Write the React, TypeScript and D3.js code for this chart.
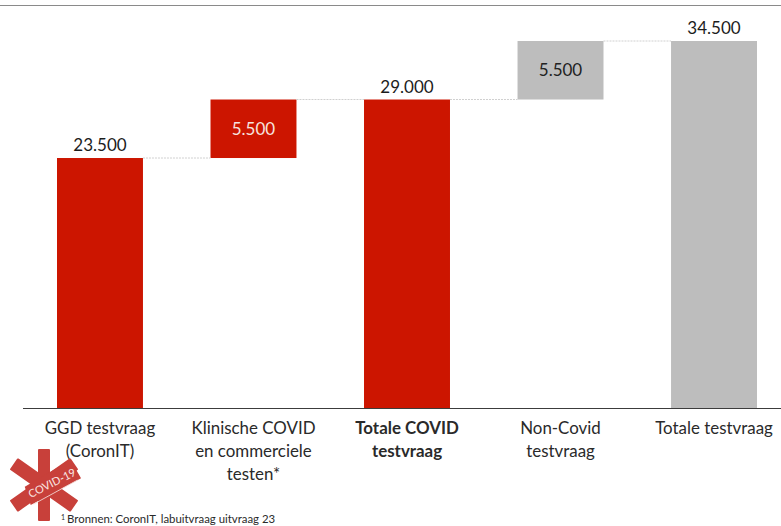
import React from "react";
import * as d3 from "d3";

const categories = ["GGD testvraag", "Klinische COVID", "Totale COVID", "Non-Covid", "Totale testvraag"];
const labelLines = [
  ["GGD testvraag", "(CoronIT)"],
  ["Klinische COVID", "en commerciele", "testen*"],
  ["Totale COVID", "testvraag"],
  ["Non-Covid", "testvraag"],
  ["Totale testvraag"],
];
const starts = [0, 23500, 0, 29000, 0];
const ends = [23500, 29000, 29000, 34500, 34500];
const valueLabels = ["23.500", "5.500", "29.000", "5.500", "34.500"];
const labelInside = [false, true, false, true, false];
const colors = ["#cc1500", "#cc1500", "#cc1500", "#bdbdbd", "#bdbdbd"];
const boldFlags = [false, false, true, false, false];

const FONT = "Lato, 'Open Sans', sans-serif";

export default function App() {
  const x = d3.scaleBand<string>().domain(categories).range([57, 757]).paddingInner(0.44).paddingOuter(0);
  const y = d3.scaleLinear().domain([0, 34500]).range([408, 41]);
  const bw = x.bandwidth();
  return (
    <svg width={781} height={526} style={{ position: "absolute", left: 0, top: 0, background: "#fff" }} fontFamily={FONT}>
      <line x1={0} x2={781} y1={5.5} y2={5.5} stroke="#8a8a8a" strokeWidth={1.2} />
      {categories.map((c, i) => (
        <rect key={c} x={x(c)} y={y(ends[i])} width={bw} height={y(starts[i]) - y(ends[i])} fill={colors[i]} />
      ))}
      {categories.slice(0, -1).map((c, i) => (
        <line key={c} x1={x(c)! + bw} x2={x(categories[i + 1])} y1={y(ends[i])} y2={y(ends[i])}
          stroke="#d0d0d0" strokeWidth={1} strokeDasharray="2 1" />
      ))}
      <line x1={23} x2={781} y1={408.5} y2={408.5} stroke="#3c3c3c" strokeWidth={1.2} />
      {categories.map((c, i) => {
        const cx = x(c)! + bw / 2;
        const yy = labelInside[i] ? (y(starts[i]) + y(ends[i])) / 2 + 6 : y(ends[i]) - 7;
        return (
          <text key={c} x={cx} y={yy} textAnchor="middle" fontSize={17}
            fill={labelInside[i] ? (i === 1 ? "#f6e3df" : "#222") : "#1c1c1c"}>{valueLabels[i]}</text>
        );
      })}
      {categories.map((c, i) => (
        <text key={c} textAnchor="middle" fontSize={16.9} fontWeight={boldFlags[i] ? 700 : 400} fill="#2a2a2a">
          {labelLines[i].map((l, k) => (
            <tspan key={k} x={x(c)! + bw / 2} y={434 + k * 23}>{l}</tspan>
          ))}
        </text>
      ))}
      <g transform="translate(44,485)" fill="#c8403a">
        <rect x={-6} y={-36} width={12} height={72} rx={1} />
        <rect x={-7} y={-37} width={14} height={74} rx={1} transform="rotate(55)" />
        <rect x={-7} y={-37} width={14} height={74} rx={1} transform="rotate(-55)" />
      </g>
      <g transform="translate(52,483) rotate(-27)">
        <path d="M-29,10 L-26,-9 L27,-12 L28,9 Z" fill="#c8403a" />
        <line x1={-26} x2={24} y1={10.5} y2={9} stroke="#f3d6d3" strokeWidth={0.8} />
        <text x={0} y={4} textAnchor="middle" fontSize={11} fontWeight={500} fill="#f7dfdc">COVID-19</text>
      </g>
      <text x={61} y={523} fontSize={11.4} fill="#2a2a2a">
        <tspan fontSize={7} dy={-3}>1</tspan>
        <tspan dy={3} dx={2}>Bronnen: CoronIT, labuitvraag uitvraag 23</tspan>
      </text>
    </svg>
  );
}
